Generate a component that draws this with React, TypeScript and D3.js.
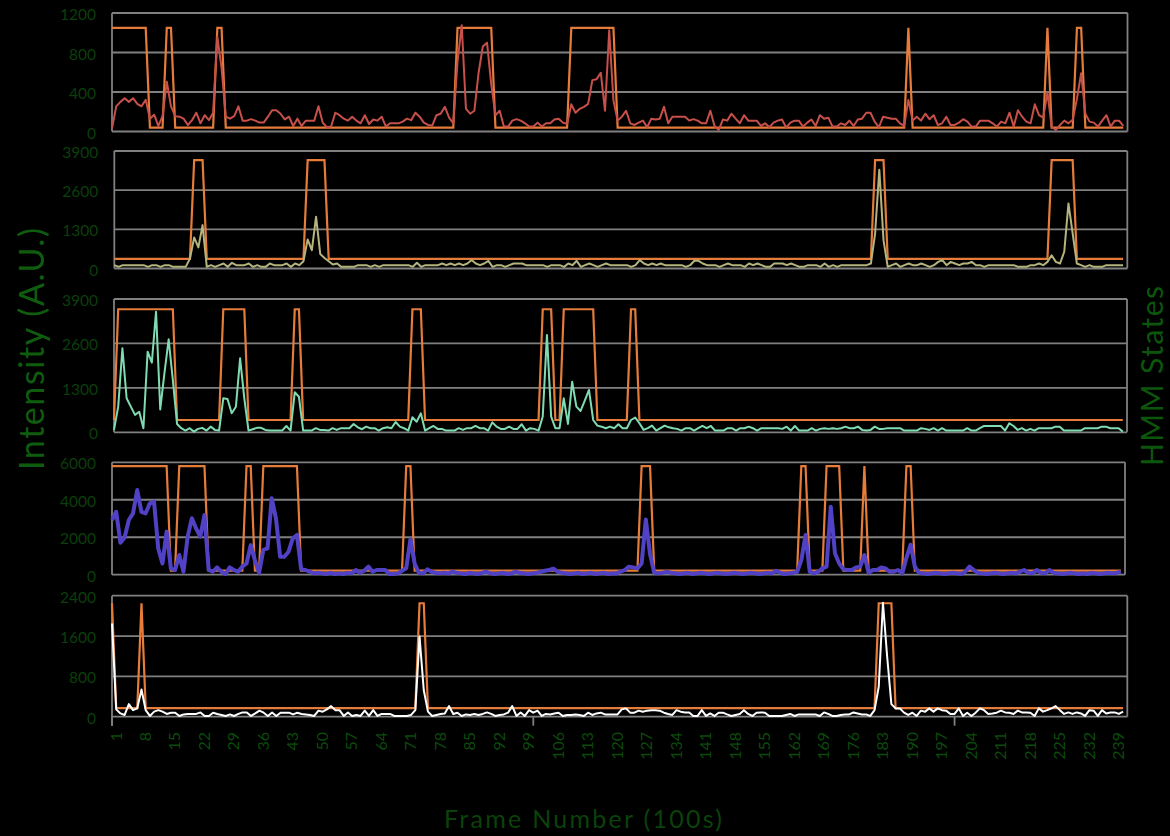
import React from "react";
import * as d3 from "d3";

const W = 1170;
const H = 836;

// frame numbers on the x axis (1..241)
const frames = d3.range(1, 242);
const xTickLabels = [1, 8, 15, 22, 29, 36, 43, 50, 57, 64, 71, 78, 85, 92, 99, 106, 113, 120, 127, 134, 141, 148, 155, 162, 169, 176, 183, 190, 197, 204, 211, 218, 225, 232, 239];
const xMajorTicks = [1, 101, 201];

// intensity traces, one value per frame
const trace1 = [
  30, 255, 300, 337, 300, 337, 280, 255, 320, 130,
  170, 56, 155, 505, 255, 155, 150, 130, 66, 115,
  190, 83, 165, 115, 190, 960, 645, 150, 130, 155,
  255, 110, 110, 125, 110, 90, 90, 150, 215, 215,
  180, 122, 150, 56, 130, 56, 110, 110, 110, 255,
  90, 43, 50, 190, 165, 130, 110, 150, 110, 83,
  165, 76, 122, 110, 150, 50, 83, 83, 83, 100,
  130, 115, 190, 150, 90, 66, 60, 165, 180, 250,
  140, 83, 710, 1075, 230, 180, 210, 595, 860, 900,
  480, 165, 210, 50, 50, 110, 125, 110, 83, 50,
  50, 90, 50, 83, 83, 122, 130, 90, 76, 275,
  190, 230, 250, 280, 520, 530, 595, 210, 1025, 315,
  110, 150, 210, 83, 66, 90, 110, 43, 130, 122,
  130, 250, 83, 150, 150, 150, 150, 110, 125, 110,
  83, 83, 210, 56, 16, 122, 110, 180, 130, 83,
  165, 110, 110, 110, 56, 83, 43, 90, 110, 122,
  40, 90, 110, 110, 50, 90, 122, 56, 165, 130,
  140, 50, 50, 83, 66, 110, 56, 122, 130, 190,
  190, 100, 43, 150, 140, 130, 130, 83, 56, 320,
  110, 150, 110, 180, 125, 165, 66, 83, 150, 66,
  66, 90, 125, 100, 50, 50, 110, 110, 110, 83,
  50, 100, 83, 190, 50, 215, 150, 100, 83, 275,
  165, 140, 395, 50, 16, 66, 110, 83, 120, 330,
  590, 180, 100, 90, 50, 110, 165, 50, 110, 110,
  56,
];

const trace2 = [
  110, 55, 110, 110, 110, 110, 110, 110, 55, 110,
  110, 55, 110, 110, 55, 55, 55, 55, 330, 1030,
  700, 1440, 55, 110, 55, 110, 165, 55, 190, 110,
  110, 110, 165, 55, 110, 55, 55, 165, 110, 110,
  110, 165, 55, 165, 110, 240, 965, 610, 1720, 480,
  350, 240, 130, 165, 55, 55, 55, 55, 110, 110,
  110, 55, 110, 55, 110, 110, 110, 110, 110, 110,
  110, 55, 190, 55, 110, 110, 110, 110, 165, 110,
  165, 110, 165, 110, 165, 280, 165, 110, 165, 255,
  55, 110, 110, 55, 110, 165, 165, 165, 110, 110,
  110, 110, 110, 55, 110, 110, 110, 55, 165, 110,
  255, 55, 110, 165, 110, 55, 110, 165, 110, 110,
  110, 110, 110, 55, 110, 280, 165, 110, 165, 110,
  165, 110, 110, 110, 110, 110, 55, 110, 255, 255,
  165, 110, 110, 110, 55, 110, 165, 110, 110, 110,
  55, 165, 110, 165, 110, 55, 55, 165, 165, 165,
  110, 165, 110, 55, 55, 110, 110, 110, 55, 165,
  55, 110, 55, 110, 110, 110, 110, 110, 110, 110,
  165, 1160, 3280, 940, 55, 110, 165, 55, 110, 165,
  110, 110, 165, 110, 55, 110, 220, 280, 110, 220,
  165, 110, 165, 165, 220, 110, 110, 55, 110, 110,
  110, 110, 110, 110, 110, 55, 55, 55, 110, 110,
  165, 110, 220, 440, 220, 165, 555, 2160, 1165, 165,
  110, 55, 110, 55, 55, 55, 110, 110, 110, 110,
  110,
];

const trace3 = [
  70, 750, 2460, 995, 750, 510, 600, 120, 2360, 2040,
  3530, 670, 1730, 2720, 1530, 245, 120, 50, 120, 20,
  100, 130, 50, 165, 70, 50, 995, 975, 555, 750,
  2165, 995, 50, 90, 130, 130, 70, 50, 50, 50,
  50, 185, 50, 1170, 1040, 50, 50, 50, 120, 70,
  70, 50, 120, 70, 120, 120, 120, 245, 145, 90,
  165, 120, 120, 50, 120, 145, 120, 300, 165, 120,
  50, 440, 310, 555, 50, 120, 185, 100, 100, 50,
  50, 50, 120, 70, 120, 120, 185, 120, 120, 50,
  290, 165, 100, 100, 165, 100, 100, 235, 50, 120,
  100, 50, 460, 2850, 460, 120, 120, 995, 245, 1480,
  750, 625, 925, 1240, 360, 195, 165, 120, 165, 120,
  235, 120, 120, 360, 430, 265, 70, 120, 195, 50,
  120, 195, 145, 120, 100, 50, 120, 120, 50, 120,
  185, 120, 185, 50, 50, 50, 120, 120, 50, 120,
  120, 165, 120, 50, 120, 120, 120, 120, 120, 100,
  165, 50, 185, 50, 50, 50, 120, 50, 100, 120,
  100, 120, 100, 120, 165, 120, 120, 165, 70, 50,
  70, 165, 100, 100, 120, 120, 120, 120, 50, 50,
  50, 50, 120, 100, 70, 120, 50, 120, 50, 50,
  50, 50, 50, 120, 50, 50, 120, 185, 185, 185,
  185, 185, 50, 265, 185, 70, 120, 50, 100, 50,
  120, 120, 120, 120, 165, 165, 50, 50, 50, 50,
  50, 120, 120, 120, 120, 165, 165, 120, 120, 120,
  20,
];

const trace4 = [
  2920, 3360, 1710, 1990, 2920, 3275, 4520, 3360, 3275, 3810,
  3900, 1400, 600, 2300, 340, 250, 1050, 160, 2030, 3010,
  2470, 2030, 3190, 250, 160, 390, 160, 35, 390, 250,
  160, 430, 600, 1580, 780, 100, 1320, 1400, 4080, 3010,
  960, 960, 1230, 1940, 2120, 285, 250, 160, 70, 100,
  70, 35, 100, 35, 70, 35, 100, 70, 250, 100,
  210, 430, 160, 250, 250, 250, 35, 35, 70, 210,
  340, 1890, 600, 100, 70, 285, 160, 100, 70, 100,
  70, 160, 100, 70, 35, 100, 70, 35, 100, 160,
  70, 35, 70, 100, 35, 70, 160, 100, 70, 35,
  70, 100, 160, 210, 250, 320, 160, 100, 70, 35,
  70, 100, 35, 70, 100, 35, 70, 100, 35, 70,
  70, 160, 250, 430, 390, 340, 600, 2950, 1100, 100,
  70, 100, 160, 100, 70, 35, 70, 100, 35, 70,
  100, 70, 35, 70, 100, 70, 35, 70, 100, 70,
  35, 70, 100, 70, 35, 70, 100, 70, 210, 100,
  35, 70, 100, 160, 780, 2120, 160, 70, 160, 340,
  430, 3630, 1140, 600, 285, 250, 250, 390, 430, 1050,
  100, 250, 250, 390, 340, 160, 160, 250, 70, 900,
  1600, 430, 100, 70, 35, 70, 100, 70, 35, 70,
  100, 70, 35, 160, 430, 250, 100, 70, 35, 70,
  100, 70, 35, 70, 100, 70, 160, 250, 100, 70,
  250, 100, 70, 250, 100, 70, 35, 70, 100, 70,
  35, 70, 35, 100, 70, 35, 70, 100, 70, 100,
  160,
];

const trace5 = [
  1850, 145, 65, 35, 250, 130, 165, 540, 130, 15,
  100, 130, 100, 55, 80, 80, 15, 45, 55, 55,
  55, 85, 15, 15, 80, 55, 35, 15, 45, 15,
  55, 85, 85, 15, 65, 120, 80, 15, 85, 15,
  80, 80, 80, 45, 80, 55, 45, 35, 15, 120,
  100, 145, 210, 130, 130, 15, 85, 15, 35, 15,
  120, 15, 130, 15, 55, 55, 55, 15, 15, 15,
  15, 35, 130, 1590, 530, 100, 15, 35, 55, 65,
  210, 55, 80, 15, 45, 35, 55, 35, 55, 85,
  55, 15, 35, 45, 80, 210, 15, 85, 15, 130,
  80, 120, 15, 55, 45, 65, 80, 15, 35, 35,
  45, 35, 15, 80, 35, 65, 80, 45, 45, 45,
  45, 145, 165, 80, 80, 120, 100, 120, 130, 130,
  120, 80, 55, 35, 130, 100, 85, 85, 15, 15,
  130, 15, 65, 15, 80, 80, 45, 15, 35, 55,
  130, 55, 15, 80, 85, 80, 15, 15, 15, 15,
  35, 55, 15, 45, 45, 45, 45, 45, 15, 85,
  55, 15, 15, 35, 45, 45, 85, 65, 45, 45,
  15, 130, 595, 2260, 1190, 250, 165, 165, 80, 35,
  80, 15, 120, 100, 165, 100, 165, 130, 120, 55,
  55, 165, 15, 80, 15, 80, 165, 130, 55, 65,
  80, 120, 85, 80, 55, 120, 85, 85, 80, 15,
  165, 100, 130, 165, 210, 130, 55, 85, 55, 85,
  65, 15, 130, 120, 15, 130, 65, 85, 85, 55,
  100,
];

// HMM state: frame ranges spent in the high state, and [low, high] levels
const hmm1High = [[1, 9], [14, 15], [26, 27], [83, 91], [110, 120], [190, 190], [223, 223], [230, 231]];
const hmm2High = [[20, 22], [47, 51], [182, 184], [224, 229]];
const hmm3High = [[2, 15], [27, 32], [44, 45], [72, 74], [103, 105], [108, 115], [124, 125]];
const hmm4High = [[1, 14], [17, 23], [33, 34], [37, 45], [71, 72], [127, 129], [165, 166], [171, 174], [180, 180], [190, 191]];
const hmm5High = [[1, 1], [8, 8], [74, 75], [183, 186]];

const hmm1Levels = [40, 1050];
const hmm2Levels = [320, 3600];
const hmm3Levels = [360, 3600];
const hmm4Levels = [220, 5800];
const hmm5Levels = [170, 2250];

const yTicks1 = [0, 400, 800, 1200];
const yTicks2 = [0, 1300, 2600, 3900];
const yTicks3 = [0, 1300, 2600, 3900];
const yTicks4 = [0, 2000, 4000, 6000];
const yTicks5 = [0, 800, 1600, 2400];

const GRID = "#808080";
const HMM_COLOR = "#e57c3a";
const FONT = "Lato, 'Noto Sans', sans-serif";

// plot boxes and styling for each stacked panel
const panels = [
  { box: { left: 112, right: 1127.5, top: 13, bottom: 131.5 }, trace: trace1, high: hmm1High, levels: hmm1Levels, ticks: yTicks1, color: "#c8504a", width: 2 },
  { box: { left: 114.3, right: 1127.3, top: 151, bottom: 268.5 }, trace: trace2, high: hmm2High, levels: hmm2Levels, ticks: yTicks2, color: "#b4b47c", width: 2 },
  { box: { left: 114, right: 1127, top: 299, bottom: 432.3 }, trace: trace3, high: hmm3High, levels: hmm3Levels, ticks: yTicks3, color: "#7fdcb2", width: 2 },
  { box: { left: 112, right: 1125, top: 462.3, bottom: 574.7 }, trace: trace4, high: hmm4High, levels: hmm4Levels, ticks: yTicks4, color: "#5141c4", width: 4 },
  { box: { left: 112, right: 1127.3, top: 595.7, bottom: 716.7 }, trace: trace5, high: hmm5High, levels: hmm5Levels, ticks: yTicks5, color: "#ffffff", width: 2 },
];

function stateSeries(high: number[][], levels: number[]) {
  return frames.map((f) => (high.some(([a, b]) => f >= a && f <= b) ? levels[1] : levels[0]));
}

function Panel({ p, last }: { p: any; last: boolean }) {
  const { left, right, top, bottom } = p.box;
  const x = d3.scaleLinear().domain([1, 242]).range([left, right]);
  const y = d3.scaleLinear().domain([0, p.ticks[p.ticks.length - 1]]).range([bottom, top]);
  const line = d3
    .line<number>()
    .x((_, i) => x(frames[i]))
    .y((d) => y(d));
  const hmm = stateSeries(p.high, p.levels);

  return (
    <g>
      {p.ticks.map((t: number) => (
        <line key={t} x1={left} x2={right} y1={y(t)} y2={y(t)} stroke={GRID} strokeWidth={1.8} />
      ))}
      <line x1={left} x2={left} y1={top} y2={last ? bottom + 9 : bottom} stroke={GRID} strokeWidth={1.8} />
      <line x1={right} x2={right} y1={top} y2={bottom} stroke={GRID} strokeWidth={1.8} />
      {p.ticks.map((t: number) => (
        <text key={"l" + t} x={left - 16} y={y(t) + 1} textAnchor="end" dominantBaseline="central" fill="#0b3f0b" fontSize={15.5} fontFamily={FONT}>
          {t}
        </text>
      ))}
      <path d={line(hmm) || ""} fill="none" stroke={HMM_COLOR} strokeWidth={2.2} strokeLinejoin="miter" />
      <path d={line(p.trace) || ""} fill="none" stroke={p.color} strokeWidth={p.width} strokeLinejoin="round" />
      {last &&
        xMajorTicks.map((f) => <line key={"m" + f} x1={x(f)} x2={x(f)} y1={bottom} y2={bottom + 9} stroke={GRID} strokeWidth={1.8} />)}
      {last &&
        xTickLabels.map((f) => (
          <text
            key={"x" + f}
            transform={`translate(${x(f) + 3},732) rotate(-90)`}
            textAnchor="end"
            dominantBaseline="central"
            fill="#0c4a0c"
            fontSize={16}
            fontFamily={FONT}
          >
            {f}
          </text>
        ))}
    </g>
  );
}

export default function App() {
  return (
    <svg width={W} height={H} style={{ position: "absolute", left: 0, top: 0, display: "block" }}>
      <rect width={W} height={H} fill="#000" />
      {panels.map((p, i) => (
        <Panel key={i} p={p} last={i === panels.length - 1} />
      ))}
      <text
        transform="translate(30,349) rotate(-90)"
        textAnchor="middle"
        dominantBaseline="central"
        fill="#0f5c0f"
        fontSize={34}
        fontFamily={FONT}
        textLength={242}
        lengthAdjust="spacing"
      >
        Intensity (A.U.)
      </text>
      <text
        transform="translate(1151,376) rotate(-90)"
        textAnchor="middle"
        dominantBaseline="central"
        fill="#0c560c"
        fontSize={30}
        fontFamily={FONT}
        textLength={180}
        lengthAdjust="spacing"
      >
        HMM States
      </text>
      <text x={583} y={828} textAnchor="middle" fill="#0a420a" fontSize={25} fontFamily={FONT} textLength={278} lengthAdjust="spacing">
        Frame Number (100s)
      </text>
    </svg>
  );
}
